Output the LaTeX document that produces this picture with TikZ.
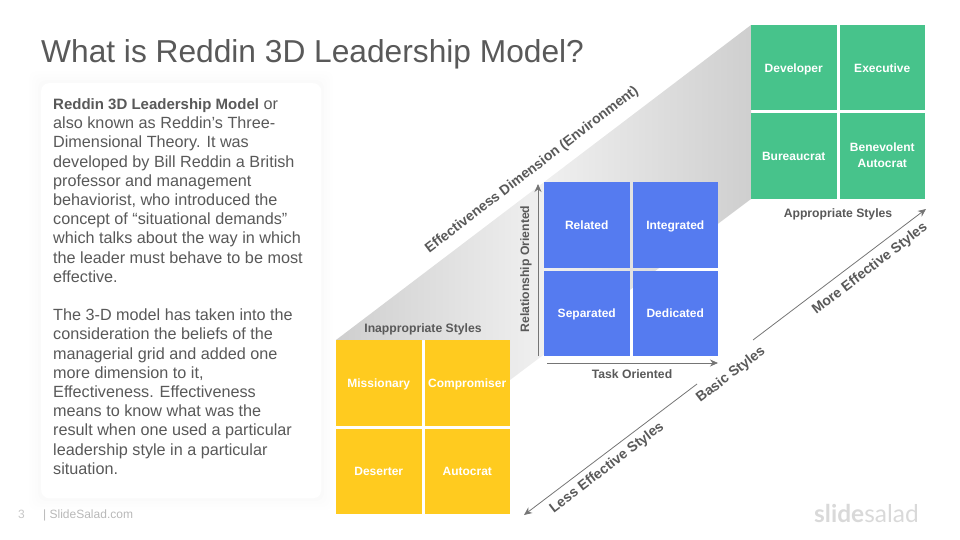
\documentclass[tikz,border=0pt]{standalone}
\usepackage{fontspec}
\setmainfont{Liberation Sans}
\newfontfamily\logofont{Lato}
\usetikzlibrary{positioning,arrows.meta}
\definecolor{inkgray}{HTML}{595959}
\definecolor{arrowgray}{HTML}{757575}
\definecolor{cellyellow}{HTML}{FFCB1F}
\definecolor{cellblue}{HTML}{557BF0}
\definecolor{cellgreen}{HTML}{47C38B}
\newcommand{\cellstrut}{\rule[-2.5pt]{0pt}{13.6pt}}
\tikzset{
	stylecell/.style={minimum size=85.5pt,inner sep=0pt,outer sep=0pt,text=white,align=center,font=\bfseries\fontsize{12}{16}\selectfont,execute at begin node=\cellstrut,execute at end node=\cellstrut},
	yellowcell/.style={stylecell,fill=cellyellow},
	bluecell/.style={stylecell,fill=cellblue},
	greencell/.style={stylecell,fill=cellgreen},
	axislabel/.style={text=inkgray,font=\bfseries\fontsize{12.2}{14}\selectfont},
	slantlabel/.style={text=inkgray,rotate=37.5,font=\bfseries\fontsize{14}{16}\selectfont},
	axisarrow/.style={draw=arrowgray,line width=0.8pt,-{Stealth[length=8pt,width=7pt]}}
}
\begin{document}
\begin{tikzpicture}[x=1pt,y=-1pt,node distance=3pt]
	\useasboundingbox (0,0) rectangle (960,540);
	\foreach \spread/\alpha in {12/0.003,9/0.004,6/0.005,3/0.006}{
			\fill[black,opacity=\alpha,rounded corners=8pt] (41-\spread,83-\spread) rectangle (321+\spread,498+\spread);
		}
	\shade[left color=black!19,right color=black!19,middle color=black!6]
	(336,340) -- (751,25) -- (751,199) -- (510,380) -- (510,340) -- cycle;
	\node[anchor=base west,inner sep=0pt,text=inkgray,font=\fontsize{31.7}{36}\selectfont] (title) at (41,63) {What is Reddin 3D Leadership Model?};
	\node[anchor=north west,fill=white,rounded corners=8pt,minimum width=280pt,minimum height=415pt] (card) at (41,83) {};
	\node[anchor=north west,inner sep=0pt,text=inkgray,align=left,font=\fontsize{16.2}{19.2}\selectfont] (body) at (53,98.5) {{\bfseries\fontsize{15}{19.2}\selectfont Reddin 3D Leadership Model} or\\
		also known as Reddin’s Three-\\
		Dimensional Theory. It was\\
		developed by Bill Reddin a British\\
		professor and management\\
		behaviorist, who introduced the\\
		concept of “situational demands”\\
		which talks about the way in which\\
		the leader must behave to be most\\
		effective.\\[19.2pt]
		The 3-D model has taken into the\\
		consideration the beliefs of the\\
		managerial grid and added one\\
		more dimension to it,\\
		Effectiveness. Effectiveness\\
		means to know what was the\\
		result when one used a particular\\
		leadership style in a particular\\
		situation.};

	\node[yellowcell,anchor=north west] (missionary) at (336,340) {Missionary};
	\node[yellowcell,right=of missionary] (compromiser) {Compromiser};
	\node[yellowcell,below=of missionary] (deserter) {Deserter};
	\node[yellowcell,right=of deserter] (autocrat) {Autocrat};
	\node[axislabel,above=1pt of missionary.north east,xshift=1.5pt] (inappropriate) {Inappropriate Styles};

	\node[bluecell,anchor=north west] (related) at (544,182) {Related};
	\node[bluecell,right=of related] (integrated) {Integrated};
	\node[bluecell,below=of related] (separated) {Separated};
	\node[bluecell,right=of separated] (dedicated) {Dedicated};

	\node[greencell,anchor=north west] (developer) at (751,25) {Developer};
	\node[greencell,right=of developer] (executive) {Executive};
	\node[greencell,below=of developer] (bureaucrat) {Bureaucrat};
	\node[greencell,right=of bureaucrat] (benevolent) {Benevolent\\Autocrat};
	\node[axislabel,below=6pt of bureaucrat.south east,xshift=1.5pt] (appropriate) {Appropriate Styles};

	\coordinate (relbase) at (538,356);
	\coordinate (reltip) at (538,184);
	\coordinate (taskbase) at (547,363);
	\coordinate (tasktip) at (718,363);
	\coordinate (morebase) at (753,340);
	\coordinate (moretip) at (926,209);
	\coordinate (lessbase) at (697,384);
	\coordinate (lesstip) at (524,515);
	\draw[axisarrow] (relbase) -- (reltip);
	\draw[axisarrow] (taskbase) -- (tasktip);
	\draw[axisarrow] (morebase) -- (moretip);
	\draw[axisarrow] (lessbase) -- (lesstip);

	\node[axislabel,rotate=90] (relationship) at (526,269) {Relationship Oriented};
	\node[axislabel] (task) at (632,374) {Task Oriented};
	\node[slantlabel] (effectiveness) at (532,170) {Effectiveness Dimension (Environment)};
	\node[slantlabel] (more) at (870,269) {More Effective Styles};
	\node[slantlabel] (basic) at (731,375) {Basic Styles};
	\node[slantlabel] (less) at (607,468) {Less Effective Styles};

	\node[anchor=base west,inner sep=0pt,text=black!22,font=\fontsize{12}{14}\selectfont] (pagenum) at (18,518) {3};
	\node[anchor=base west,inner sep=0pt,text=black!28,font=\fontsize{12}{14}\selectfont] (site) at (43,518) {| SlideSalad.com};
	\node[anchor=base west,inner sep=0pt,text=black!15,font=\logofont\fontsize{24.5}{28}\selectfont] (logo) at (814,522) {\textbf{slide}salad};
\end{tikzpicture}
\end{document}
